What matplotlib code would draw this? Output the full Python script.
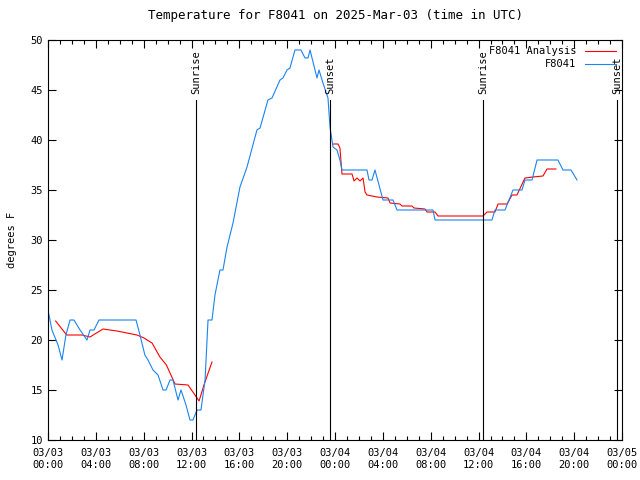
import datetime as dt
import numpy as np
import matplotlib
matplotlib.use("Agg")
import matplotlib.pyplot as plt
import matplotlib.dates as mdates

# hours after 2025-03-03 00:00 UTC
obs_hours = [0.0, 0.33, 0.84, 1.17, 1.5, 1.84, 2.17, 2.68, 3.26, 3.51, 3.85, 4.26,
             7.36, 7.69, 8.1, 8.36, 8.78, 9.2, 9.62, 9.87, 10.2, 10.45, 10.87, 11.12,
             11.54, 11.87, 12.12, 12.46, 12.79, 13.13, 13.38, 13.71, 13.96, 14.21,
             14.38, 14.63, 14.97, 15.47, 16.05, 16.64, 17.47, 17.73, 18.39, 18.73,
             19.4, 19.65, 19.98, 20.23, 20.65, 21.15, 21.49, 21.74, 21.91, 22.49,
             22.66, 22.99, 23.41, 23.58, 23.83, 24.16, 24.41, 24.58, 26.67, 26.84,
             27.09, 27.34, 28.01, 28.85, 29.18, 32.19, 32.36, 37.12, 37.37, 38.21,
             38.88, 39.63, 39.88, 40.47, 40.89, 42.64, 43.06, 43.73, 44.23]
obs_temp = [23, 21, 19.5, 18, 20.5, 22, 22, 21, 20, 21, 21, 22,
            22, 20.5, 18.5, 18, 17, 16.5, 15, 15, 16, 16, 14, 15,
            13.5, 12, 12, 13, 13, 16, 22, 22, 24.5, 26,
            27, 27, 29.3, 31.7, 35.3, 37.3, 41, 41.2, 44, 44.2,
            46, 46.2, 47, 47.2, 49, 49, 48.2, 48.2, 49, 46.2,
            47, 45.7, 44.2, 41.3, 39.3, 39, 38, 37, 37, 36,
            36, 37, 34, 34, 33, 33, 32, 32, 33, 33,
            35, 35, 36, 36, 38, 38, 37, 37, 36]

# analysis, gap between the two runs
ana_hours = [0.64, 1.56, 2.84, 3.51, 4.6, 5.77, 7.44, 8.03, 8.7, 9.36, 9.9, 10.62,
             11.71, 12.29, 12.63, 13.04, 13.71,
             18.0,
             23.83, 24.25, 24.41, 24.58, 25.42, 25.59, 25.84, 26.09, 26.34, 26.51,
             26.67, 27.51, 28.43, 28.6, 29.43, 29.6, 30.43, 30.6, 31.52, 31.69,
             32.36, 32.61, 36.37, 36.71, 37.37, 37.63, 38.38, 38.8, 39.21, 39.88,
             40.55, 41.39, 41.72, 42.47]
ana_temp = [21.9, 20.5, 20.5, 20.3, 21.1, 20.9, 20.5, 20.2, 19.7, 18.3, 17.5, 15.6,
            15.5, 14.5, 13.9, 15.5, 17.8,
            np.nan,
            39.6, 39.6, 39.2, 36.6, 36.6, 35.9, 36.2, 35.9, 36.2, 34.8,
            34.5, 34.3, 34.2, 33.7, 33.6, 33.4, 33.4, 33.2, 33.1, 32.8,
            32.8, 32.4, 32.4, 32.8, 32.8, 33.6, 33.6, 34.5, 34.5, 36.2,
            36.3, 36.4, 37.1, 37.1]

sun_hours = [12.37, 23.58, 36.37, 47.57]
sun_labels = ["Sunrise", "Sunset", "Sunrise", "Sunset"]

start = dt.datetime(2025, 3, 3)


def to_time(hours):
    return [start + dt.timedelta(hours=h) for h in hours]


plt.rcParams["font.family"] = "DejaVu Sans Mono"
plt.rcParams["font.size"] = 7.5

fig = plt.figure(figsize=(6.4, 4.8), dpi=100)
ax = fig.add_axes([0.075, 0.0833, 0.897, 0.8334])

ax.plot(to_time(ana_hours), ana_temp, color="#ff0000", lw=0.8, label="F8041 Analysis")
ax.plot(to_time(obs_hours), obs_temp, color="#1a84f0", lw=0.8, label="F8041")

for h, lab in zip(sun_hours, sun_labels):
    t = start + dt.timedelta(hours=h)
    ax.plot([t, t], [10, 44], color="black", lw=0.8)
    ax.text(t, 44.6, lab, rotation=90, ha="center", va="bottom")

ax.set_xlim(start, start + dt.timedelta(hours=48))
ax.set_ylim(10, 50)
ax.set_yticks(range(10, 51, 5))
ax.xaxis.set_major_locator(mdates.HourLocator(byhour=[0, 4, 8, 12, 16, 20]))
ax.xaxis.set_minor_locator(mdates.HourLocator())
ax.xaxis.set_major_formatter(mdates.DateFormatter("%m/%d\n%H:%M"))
ax.tick_params(direction="in", top=True, right=True, length=6, width=0.8)
ax.tick_params(which="minor", direction="in", top=True, length=3, width=0.8)
ax.tick_params(axis="x", pad=6)
for s in ax.spines.values():
    s.set_linewidth(0.8)

ax.set_ylabel("degrees F", labelpad=10)
ax.set_title("Temperature for F8041 on 2025-Mar-03 (time in UTC)", pad=15)

ax.legend(loc="upper right", frameon=False, markerfirst=False, handlelength=3,
          borderaxespad=0.2, labelspacing=0.3)

fig.savefig("out.png", dpi=100)
